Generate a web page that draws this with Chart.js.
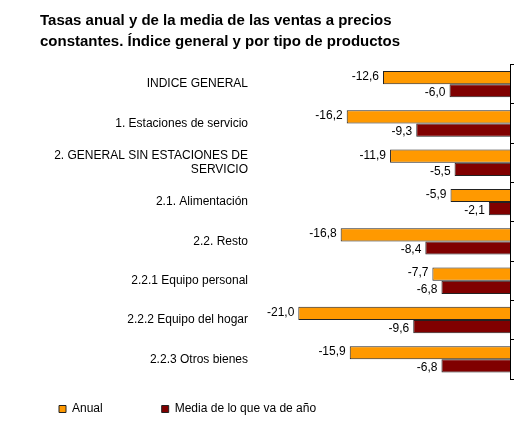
<!DOCTYPE html>
<html>
<head>
<meta charset="utf-8">
<script src="https://cdn.jsdelivr.net/npm/chart.js@4.4.0/dist/chart.umd.min.js"></script>
<style>
  html, body { margin: 0; padding: 0; background: #fff; }
  #contenedor { width: 530px; height: 436px; }
</style>
</head>
<body>
<div id="contenedor"><canvas id="grafico"></canvas></div>
<script>
// datos
var categorias = [
    'INDICE GENERAL',
    '1. Estaciones de servicio',
    ['2. GENERAL SIN ESTACIONES DE', 'SERVICIO'],
    '2.1. Alimentación',
    '2.2. Resto',
    '2.2.1 Equipo personal',
    '2.2.2 Equipo del hogar',
    '2.2.3 Otros bienes'
];
var anual = [-12.6, -16.2, -11.9, -5.9, -16.8, -7.7, -21.0, -15.9];
var mediaAnio = [-6.0, -9.3, -5.5, -2.1, -8.4, -6.8, -9.6, -6.8];

var fuente = "'Liberation Sans', Arial, sans-serif";
Chart.defaults.font.family = fuente;
Chart.defaults.color = '#000';

// etiquetas con el valor a la izquierda de cada barra
const etiquetasValor = {
    id: 'etiquetasValor',
    afterDatasetsDraw(chart) {
        const ctx = chart.ctx;
        ctx.save();
        ctx.font = '12px ' + fuente;
        ctx.fillStyle = '#000';
        ctx.textAlign = 'right';
        ctx.textBaseline = 'middle';
        chart.data.datasets.forEach((ds, i) => {
            chart.getDatasetMeta(i).data.forEach((barra, j) => {
                const txt = ds.data[j].toFixed(1).replace('.', ',');
                const dy = i === 0 ? -1 : 2;
                ctx.fillText(txt, barra.x - 4, barra.y + dy);
            });
        });
        ctx.restore();
    }
};

// mover titulo y leyenda a su sitio
const ajustes = {
    id: 'ajustes',
    afterLayout(chart) {
        chart.titleBlock.left += 40;
        chart.titleBlock.right += 40;
        chart.legend.top = 344;
        chart.legend.bottom = 436;
        chart.legend.height = 92;
    }
};

const data = {
    labels: categorias,
    datasets: [{
        label: 'Anual',
        data: anual,
        backgroundColor: '#FF9900',
        borderColor: '#222',
        borderWidth: 1,
        yAxisID: 'y'
    }, {
        label: 'Media de lo que va de año',
        data: mediaAnio,
        backgroundColor: '#800000',
        borderColor: '#222',
        borderWidth: 1,
        yAxisID: 'y'
    }]
};

const opciones = {
    indexAxis: 'y',
    responsive: true,
    maintainAspectRatio: false,
    animation: false,
    datasets: {
        bar: { categoryPercentage: 0.67, barPercentage: 1.0 }
    },
    layout: { padding: { left: 0, right: 16, top: 0, bottom: 0 } },
    scales: {
        x: { display: false, min: -25, max: 0 },
        y: {
            position: 'left',
            afterFit: (eje) => { eje.width = 258; },
            grid: { display: false, drawTicks: false },
            border: { display: false },
            ticks: { padding: 10, font: { size: 12 }, color: '#000' }
        },
        y2: {
            type: 'category',
            position: 'right',
            offset: true,
            grid: { drawOnChartArea: false, tickLength: 4, color: '#000', offset: true },
            border: { display: true, color: '#000', width: 1 },
            ticks: { display: false }
        }
    },
    plugins: {
        title: {
            display: true,
            align: 'start',
            text: ['Tasas anual y de la media de las ventas a precios',
                   'constantes. Índice general y por tipo de productos'],
            font: { size: 15, weight: 'bold', lineHeight: 1.35 },
            color: '#000',
            padding: { top: 11, bottom: 13 }
        },
        legend: {
            position: 'bottom',
            align: 'start',
            maxHeight: 57,
            labels: {
                boxWidth: 7,
                boxHeight: 7,
                padding: 59,
                font: { size: 12 },
                color: '#000'
            }
        },
        tooltip: { enabled: false }
    }
};

var grafico = new Chart(document.getElementById('grafico').getContext('2d'), {
    type: 'bar',
    data: data,
    options: opciones,
    plugins: [etiquetasValor, ajustes]
});
</script>
</body>
</html>
